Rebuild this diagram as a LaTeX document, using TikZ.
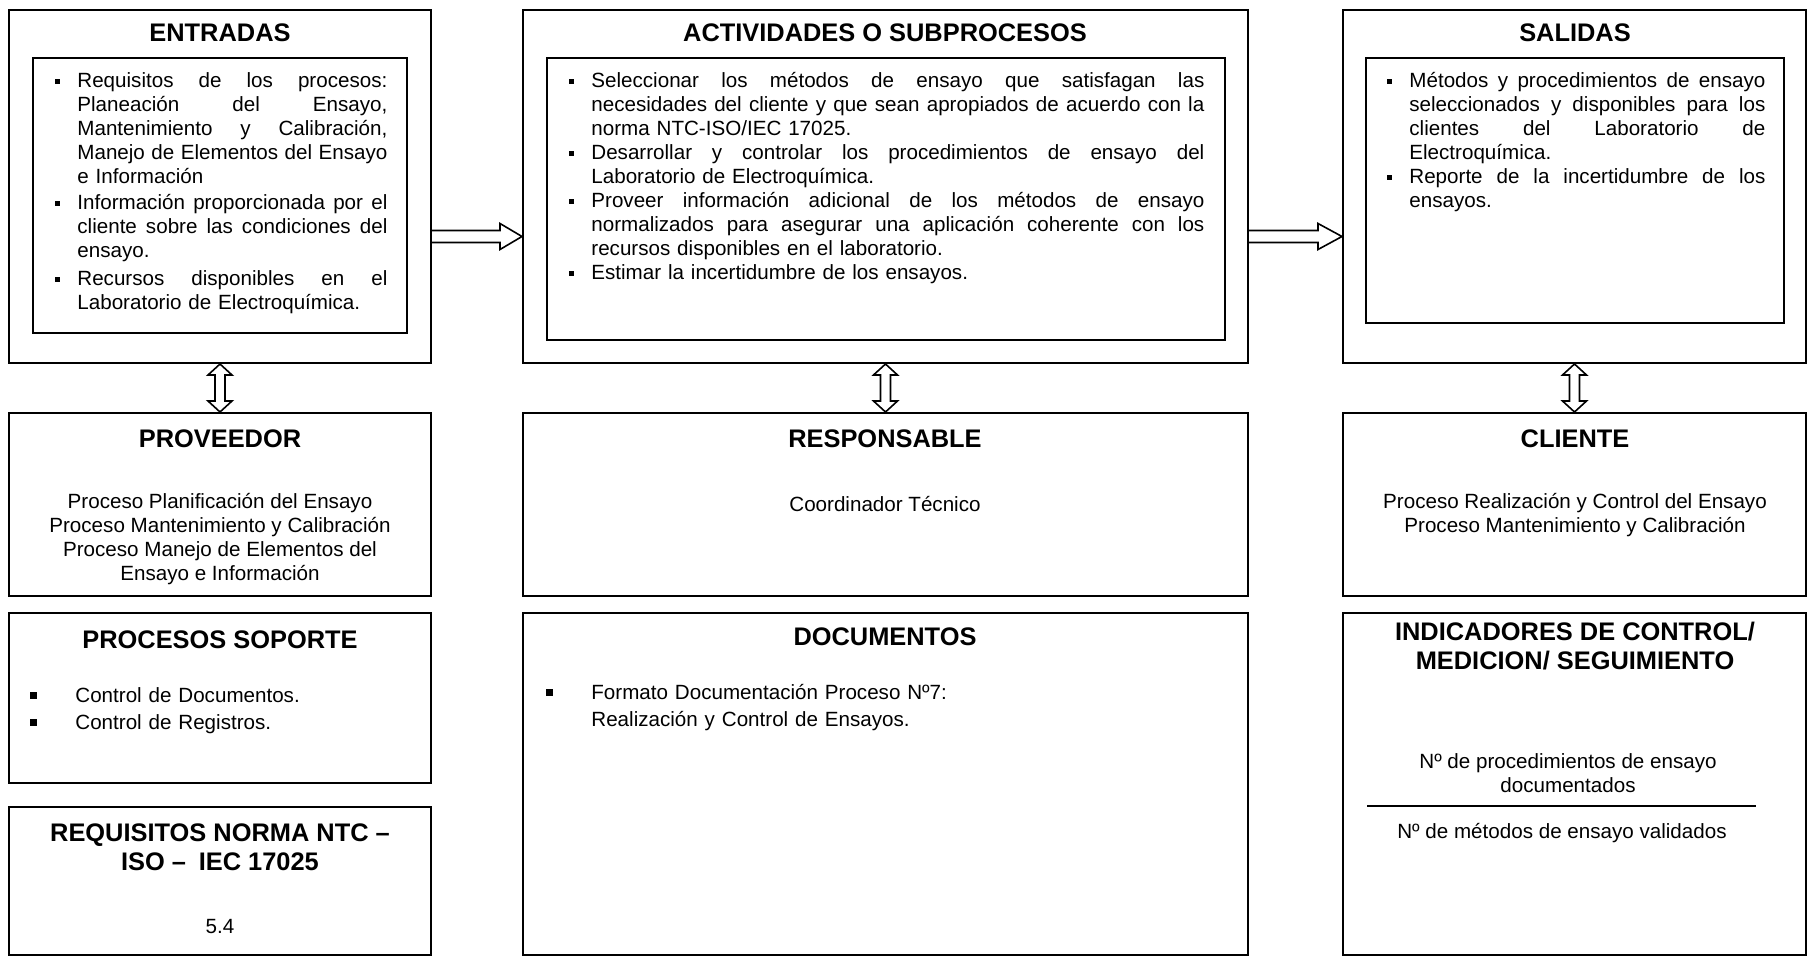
\documentclass[tikz,border=0pt]{standalone}
\usepackage{fontspec}
\setmainfont{Liberation Sans}
\usepackage{tikz}
\usetikzlibrary{calc,fit}

\newcommand{\bul}{\leavevmode\llap{\rule[2.2pt]{2.4pt}{2.4pt}\hspace{8.8pt}}}
\newcommand{\bigbul}{\leavevmode\llap{\rule[1.6pt]{3.2pt}{3.2pt}\hspace{19.4pt}}}
\newcommand{\jline}[1]{\makebox[\linewidth][s]{\spaceskip=0.278em plus 1fil\relax\xspaceskip=\spaceskip #1}}

\begin{document}
\begin{tikzpicture}[x=0.5pt,y=-0.5pt,
    box/.style={draw,line width=1pt,inner sep=0pt},
    ttl/.style={font=\fontsize{12.7}{14.5}\selectfont\bfseries,align=center,inner sep=0pt},
    txt/.style={font=\fontsize{10.3}{12}\selectfont,align=center,inner sep=0pt},
    lst/.style={font=\fontsize{10.3}{12}\selectfont,align=left,inner sep=0pt,anchor=base west},
    hollow/.style={draw,line width=0.8pt,line join=miter}]
  \useasboundingbox (0,0) rectangle (1812,963);
  % top row
  \node[box,fit={(9,10) (431,363)}] (ent) {};
  \node[box,fit={(33,58) (407,333)}] (entin) {};
  \node[box,fit={(523,10) (1248,363)}] (act) {};
  \node[box,fit={(547,58) (1225,340)}] (actin) {};
  \node[box,fit={(1343,10) (1806,363)}] (sal) {};
  \node[box,fit={(1366,58) (1784,323)}] (salin) {};
  \node[ttl] (entT) at (220,33) {ENTRADAS};
  \node[ttl] (actT) at (885,33) {ACTIVIDADES O SUBPROCESOS};
  \node[ttl] (salT) at (1575,33) {SALIDAS};
  \node[lst,text width=155pt] (entL) at (77,88) {%
    \bul\jline{Requisitos de los procesos:}\\
    \jline{Planeación del Ensayo,}\\
    \jline{Mantenimiento y Calibración,}\\
    \jline{Manejo de Elementos del Ensayo}\\
    e Información\\[1pt]
    \bul\jline{Información proporcionada por el}\\
    \jline{cliente sobre las condiciones del}\\
    ensayo.\\[2pt]
    \bul\jline{Recursos disponibles en el}\\
    Laboratorio de Electroquímica.};
  \node[lst,text width=306.5pt] (actL) at (591,88) {%
    \bul\jline{Seleccionar los métodos de ensayo que satisfagan las}\\
    \jline{necesidades del cliente y que sean apropiados de acuerdo con la}\\
    norma NTC-ISO/IEC 17025.\\
    \bul\jline{Desarrollar y controlar los procedimientos de ensayo del}\\
    Laboratorio de Electroquímica.\\
    \bul\jline{Proveer información adicional de los métodos de ensayo}\\
    \jline{normalizados para asegurar una aplicación coherente con los}\\
    recursos disponibles en el laboratorio.\\
    \bul Estimar la incertidumbre de los ensayos.};
  \node[lst,text width=178pt] (salL) at (1409,88) {%
    \bul\jline{Métodos y procedimientos de ensayo}\\
    \jline{seleccionados y disponibles para los}\\
    \jline{clientes del Laboratorio de}\\
    Electroquímica.\\
    \bul\jline{Reporte de la incertidumbre de los}\\
    ensayos.};
  % second row
  \node[box,fit={(9,413) (431,596)}] (prov) {};
  \node[box,fit={(523,413) (1248,596)}] (resp) {};
  \node[box,fit={(1343,413) (1806,596)}] (cli) {};
  \node[ttl] (provT) at (220,439) {PROVEEDOR};
  \node[ttl] (respT) at (885,439) {RESPONSABLE};
  \node[ttl] (cliT) at (1575,439) {CLIENTE};
  \node[txt] (provX) at (220,539) {Proceso Planificación del Ensayo\\Proceso Mantenimiento y Calibración\\Proceso Manejo de Elementos del\\Ensayo e Información};
  \node[txt] (respX) at (885,504) {Coordinador Técnico};
  \node[txt] (cliX) at (1575,515) {Proceso Realización y Control del Ensayo\\Proceso Mantenimiento y Calibración};
  % third row
  \node[box,fit={(9,613) (431,783)}] (sop) {};
  \node[box,fit={(9,807) (431,955)}] (req) {};
  \node[box,fit={(523,613) (1248,955)}] (doc) {};
  \node[box,fit={(1343,613) (1806,955)}] (ind) {};
  \node[ttl] (sopT) at (220,640) {PROCESOS SOPORTE};
  \node[lst,text width=150pt,font=\fontsize{10.3}{13.5}\selectfont] (sopL) at (75,702) {%
    \bigbul Control de Documentos.\\
    \bigbul Control de Registros.};
  \node[ttl] (reqT) at (220,847) {REQUISITOS NORMA NTC –\\ISO –\enspace IEC 17025};
  \node[txt] (reqX) at (220,927) {5.4};
  \node[ttl] (docT) at (885,637) {DOCUMENTOS};
  \node[lst,text width=300pt,font=\fontsize{10.3}{13.5}\selectfont] (docL) at (591,699) {%
    \bigbul Formato Documentación Proceso Nº7:\\
    Realización y Control de Ensayos.};
  \node[ttl] (indT) at (1575,646) {INDICADORES DE CONTROL/\\MEDICION/ SEGUIMIENTO};
  \node[txt] (indA) at (1568,773) {Nº de procedimientos de ensayo\\documentados};
  \node[txt] (indB) at (1562,833) {Nº de métodos de ensayo validados};
  \draw[line width=0.8pt] (1367,806) -- (1756,806);
  % arrows
  \coordinate (a1) at ($(ent.east)+(0,50)$);
  \coordinate (a2) at (act.west |- a1);
  \draw[hollow] ($(a1)+(0,-6)$) -- ($(a2)+(-22,-6)$) -- ++(0,-7) -- (a2) -- ++(-22,13) -- ++(0,-7) -- ($(a1)+(0,6)$);
  \coordinate (a3) at ($(act.east)+(0,50)$);
  \coordinate (a4) at (sal.west |- a3);
  \draw[hollow] ($(a3)+(0,-6)$) -- ($(a4)+(-24,-6)$) -- ++(0,-7) -- (a4) -- ++(-24,13) -- ++(0,-7) -- ($(a3)+(0,6)$);
  \foreach \a/\b in {ent/prov,act/resp,sal/cli}
    \draw[hollow] (\a.south) -- ++(12,11) -- ++(-7,0) -- ($(\b.north)+(5,-11)$) -- ++(7,0) -- (\b.north)
      -- ++(-12,-11) -- ++(7,0) -- ($(\a.south)+(-5,11)$) -- ++(-7,0) -- cycle;
\end{tikzpicture}
\end{document}
